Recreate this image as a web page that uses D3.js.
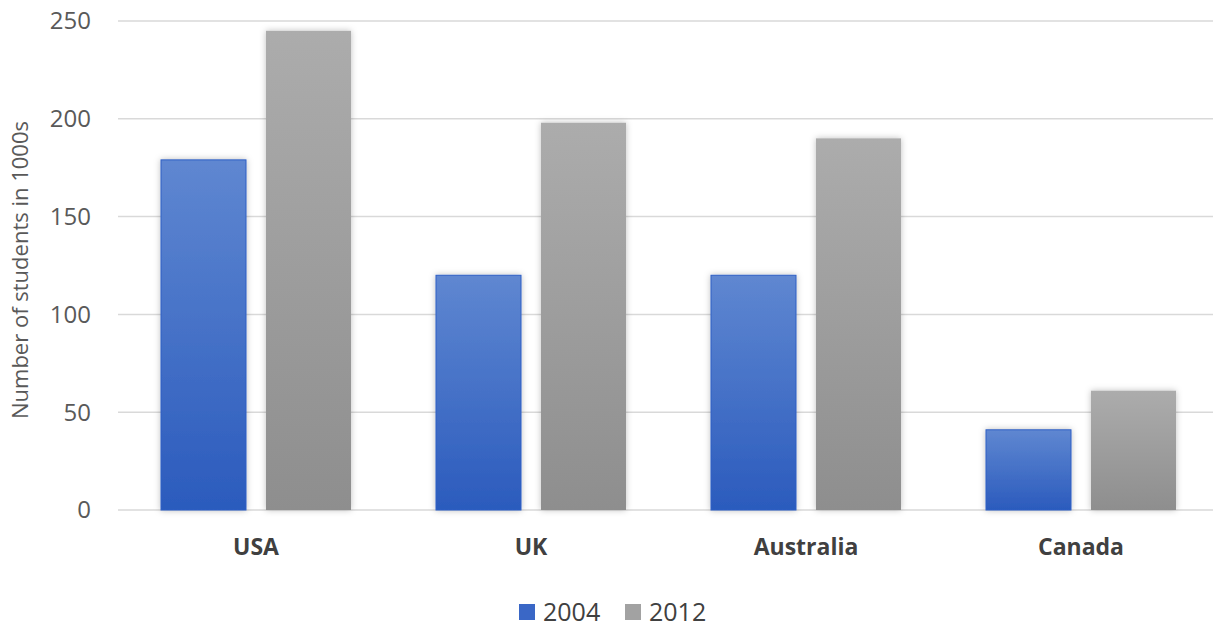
<!DOCTYPE html>
<html>
<head>
<meta charset="utf-8">
<script src="https://cdn.jsdelivr.net/npm/d3@7"></script>
<style>
  body { margin: 0; background: #fff; }
  text { font-family: "Open Sans", "Liberation Sans", sans-serif; }
</style>
</head>
<body>
<div class="container"></div>
<script>
const categories = ['USA', 'UK', 'Australia', 'Canada']
const series = ['2004', '2012']
const values2004 = [179, 120, 120, 41]
const values2012 = [245, 198, 190, 61]
const yTicks = [0, 50, 100, 150, 200, 250]

const width = 1215
const height = 629
const margin = {top: 21, right: 2, bottom: 119, left: 118}

const svg = d3.select('.container')
  .append('svg')
  .attr('width', width)
  .attr('height', height)

const defs = svg.append('defs')

function gradient(id, top, bottom) {
  const g = defs.append('linearGradient')
    .attr('id', id)
    .attr('x1', 0).attr('y1', 0).attr('x2', 0).attr('y2', 1)
  g.append('stop').attr('offset', '0%').attr('stop-color', top)
  g.append('stop').attr('offset', '100%').attr('stop-color', bottom)
}
gradient('grad2004', '#5f87d1', '#2b5bbd')
gradient('grad2012', '#acacac', '#8e8e8e')

const shadow = defs.append('filter')
  .attr('id', 'shadow')
  .attr('x', '-20%').attr('y', '-20%').attr('width', '140%').attr('height', '140%')
shadow.append('feDropShadow')
  .attr('dx', 0).attr('dy', 0)
  .attr('stdDeviation', 3)
  .attr('flood-color', '#000')
  .attr('flood-opacity', 0.25)

// each category gets a 275px slot, bar pair is 190px wide in the middle
const x0 = d3.scaleBand()
  .domain(categories)
  .range([118.5, 1218.5])

const x1 = d3.scaleBand()
  .domain(series)
  .range([42.5, 232.5])
  .paddingInner(0.1905)

const y = d3.scaleLinear()
  .domain([0, 250])
  .range([height - margin.bottom, margin.top])

// gridlines
svg.append('g')
  .selectAll('line')
  .data(yTicks)
  .join('line')
    .attr('x1', margin.left)
    .attr('x2', width - margin.right)
    .attr('y1', d => y(d))
    .attr('y2', d => y(d))
    .attr('stroke', '#d9d9d9')
    .attr('stroke-width', 1.5)

// y tick labels
svg.append('g')
  .selectAll('text')
  .data(yTicks)
  .join('text')
    .attr('x', 91)
    .attr('y', d => y(d))
    .attr('dy', '0.35em')
    .attr('text-anchor', 'end')
    .attr('fill', '#595959')
    .style('font-size', '24px')
    .text(d => d)

// y axis title
svg.append('text')
  .attr('transform', `translate(28, 270) rotate(-90)`)
  .attr('text-anchor', 'middle')
  .attr('fill', '#595959')
  .style('font-size', '22px')
  .text('Number of students in 1000s')

const rows = categories.map((c, i) => ({cat: c, vals: [values2004[i], values2012[i]]}))

const groups = svg.append('g')
  .selectAll('g')
  .data(rows)
  .join('g')
    .attr('transform', d => `translate(${x0(d.cat)}, 0)`)

groups.selectAll('rect')
  .data(d => d.vals.map((v, j) => ({key: series[j], value: v})))
  .join('rect')
    .attr('x', d => x1(d.key))
    .attr('y', d => y(d.value))
    .attr('width', x1.bandwidth())
    .attr('height', d => y(0) - y(d.value))
    .attr('fill', d => `url(#grad${d.key})`)
    .attr('stroke', d => d.key === '2004' ? '#2f5fc4' : 'none')
    .attr('stroke-width', 1)
    .attr('filter', 'url(#shadow)')

// category labels
svg.append('g')
  .selectAll('text')
  .data(categories)
  .join('text')
    .attr('x', d => x0(d) + x0.bandwidth() / 2)
    .attr('y', 547)
    .attr('dy', '0.35em')
    .attr('text-anchor', 'middle')
    .attr('fill', '#404040')
    .style('font-size', '23px')
    .style('font-weight', 'bold')
    .text(d => d)

// legend
const legendColors = ['#3a67c6', '#a2a2a2']
const legend = svg.append('g')
  .selectAll('g')
  .data(series)
  .join('g')
    .attr('transform', (d, i) => `translate(${519 + i * 106}, 612)`)

legend.append('rect')
  .attr('x', 0)
  .attr('y', -8)
  .attr('width', 16)
  .attr('height', 16)
  .attr('fill', (d, i) => legendColors[i])

legend.append('text')
  .attr('x', 24)
  .attr('y', 0)
  .attr('dy', '0.35em')
  .attr('fill', '#404040')
  .style('font-size', '25px')
  .text(d => d)
</script>
</body>
</html>
